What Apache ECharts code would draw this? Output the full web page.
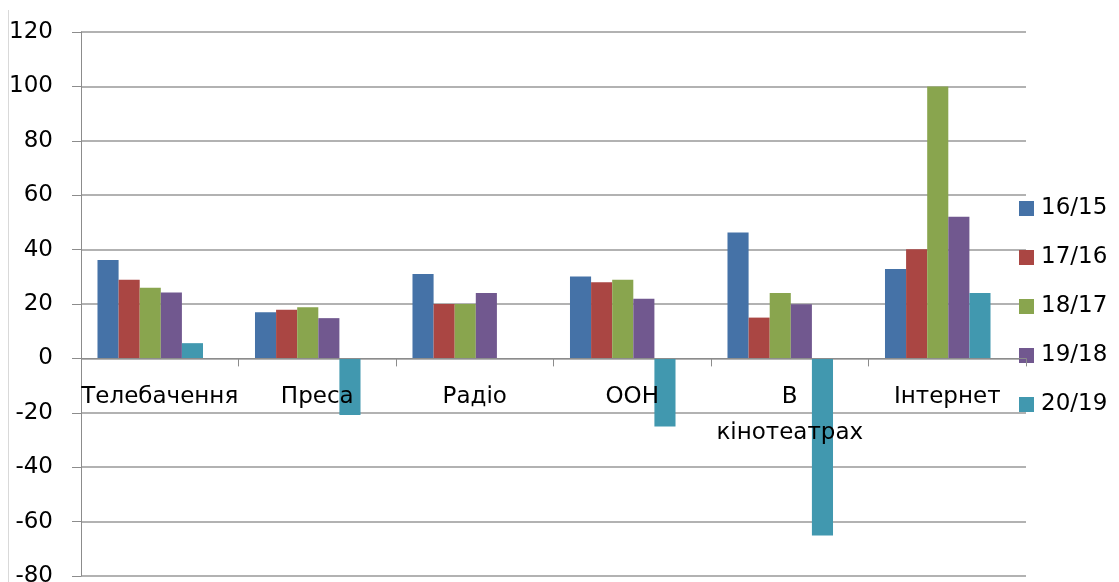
<!DOCTYPE html>
<html><head><meta charset="utf-8">
<script src="https://cdn.jsdelivr.net/npm/echarts@6/dist/echarts.min.js"></script>
<style>html,body{margin:0;padding:0;background:#fff}#c{width:1119px;height:582px}</style>
</head><body><div id="c"></div>
<script>
const categories = ['Телебачення', 'Преса', 'Радіо', 'ООН', 'В кінотеатрах', 'Інтернет'];
const seriesNames = ['16/15', '17/16', '18/17', '19/18', '20/19'];
const s1615 = [36.2, 17, 31, 30.1, 46.3, 32.9];
const s1716 = [28.9, 17.9, 20, 28, 15, 40.1];
const s1817 = [26, 18.8, 20, 28.9, 24, 100];
const s1918 = [24.2, 14.8, 24, 21.9, 19.9, 52.1];
const s2019 = [5.6, -20.8, null, -25, -65.1, 24];
const yTicks = [-80, -60, -40, -20, 0, 20, 40, 60, 80, 100, 120];

const colors = ['#4572A7', '#AA4643', '#89A54E', '#71588F', '#4198AF'];
const values = [s1615, s1716, s1817, s1918, s2019];
const FONT = 'DejaVu Sans';
const yMin = yTicks[0], yMax = yTicks[yTicks.length - 1];
const chart = echarts.init(document.getElementById('c'), null, {renderer: 'canvas'});
chart.setOption({
  animation: false,
  color: colors,
  grid: [
    {left: 81, right: 93, top: 32, bottom: 6, containLabel: false, outerBoundsMode: 'none'},
    {left: 71.5, right: 102.5, top: 32, bottom: 6, containLabel: false, outerBoundsMode: 'none'}
  ],
  legend: {
    orient: 'vertical', left: 1014, top: 192,
    itemWidth: 15, itemHeight: 15, itemGap: 26,
    icon: 'rect',
    data: seriesNames,
    textStyle: {fontFamily: FONT, fontSize: 23, color: '#000', lineHeight: 23, padding: [0, 0, 0, 2]}
  },
  xAxis: [{
    type: 'category', data: categories, gridIndex: 0, z: 5,
    axisLine: {onZero: true, lineStyle: {color: '#8c8c8c', width: 1}},
    axisTick: {show: true, alignWithLabel: false, length: 8, lineStyle: {color: '#8c8c8c'}},
    axisLabel: {
      fontFamily: FONT, fontSize: 23, color: '#000', margin: -197, lineHeight: 36, interval: 0,
      verticalAlign: 'top', hideOverlap: false,
      formatter: v => v.replace(' ', '\n')
    },
    splitLine: {show: false}
  }, {
    type: 'category', data: categories, gridIndex: 1, show: false
  }],
  yAxis: [{
    type: 'value', min: yMin, max: yMax, interval: 20, gridIndex: 0,
    axisLine: {show: true, lineStyle: {color: '#8c8c8c', width: 1}},
    axisTick: {show: true, length: 9, lineStyle: {color: '#8c8c8c'}},
    axisLabel: {fontFamily: FONT, fontSize: 23, color: '#000', margin: 28},
    splitLine: {show: true, lineStyle: {color: '#999999', width: 1.5}}
  }, {
    type: 'value', min: yMin, max: yMax, interval: 20, gridIndex: 1, show: false,
    splitLine: {show: false}
  }],
  graphic: [{
    type: 'line', shape: {x1: 8.5, y1: 10, x2: 8.5, y2: 582},
    style: {stroke: '#d9d9d9', lineWidth: 1}
  }],
  series: seriesNames.map((n, i) => ({
    name: n, type: 'bar', data: values[i],
    xAxisIndex: 1, yAxisIndex: 1,
    barGap: '0%', barCategoryGap: '33%',
    itemStyle: {color: colors[i]}
  }))
});
</script></body></html>
